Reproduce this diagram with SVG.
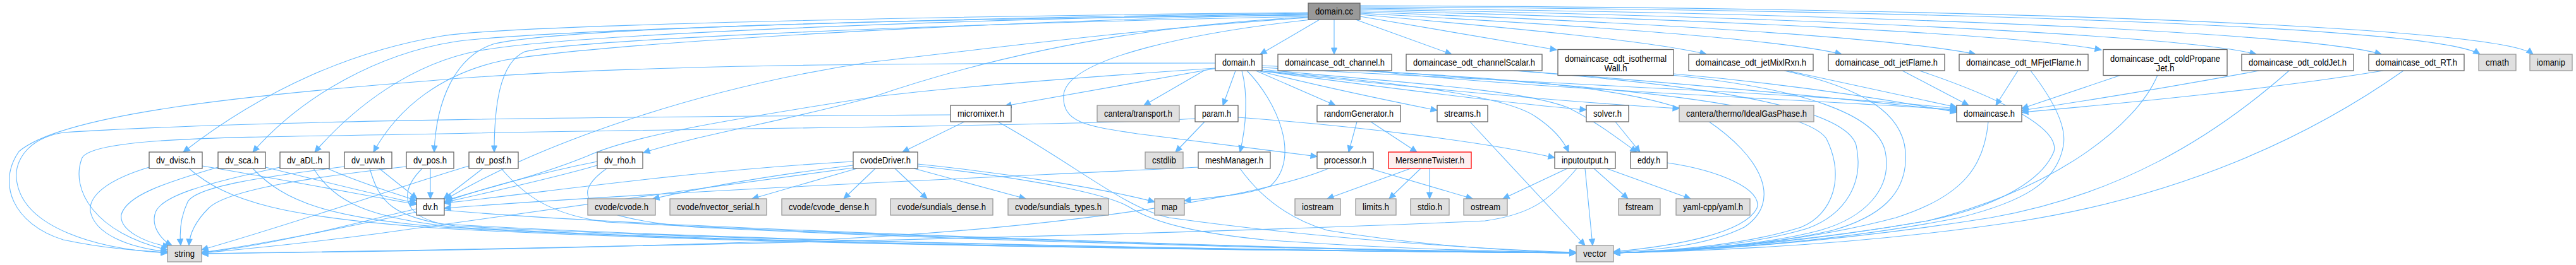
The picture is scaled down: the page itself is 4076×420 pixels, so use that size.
<svg xmlns="http://www.w3.org/2000/svg" width="4076" height="420" viewBox="0 0 4076 420">
<style>
.n rect{fill:#ffffff;stroke:#666666;stroke-width:1.3}
.x rect{fill:#e0e0e0;stroke:#999999;stroke-width:1.3}
.root rect{fill:#999999;stroke:#666666;stroke-width:1.3}
.red rect{fill:#fff0f0;stroke:#ff0000;stroke-width:1.3}
text{font-family:"Liberation Sans",Arial,Helvetica,sans-serif;font-size:14px;text-anchor:middle;fill:#000000}
#edges path{fill:none;stroke:#63b8ff;stroke-width:1.1;marker-end:url(#a)}
</style>
<defs>
<marker id="a" markerUnits="userSpaceOnUse" markerWidth="12" markerHeight="10" refX="10" refY="4.5" orient="auto" overflow="visible">
<path d="M0,0 L10,4.5 L0,9 z" fill="#63b8ff" stroke="#63b8ff" stroke-width="1"/>
</marker>
</defs>
<rect width="4076" height="420" fill="#ffffff"/>
<g id="edges">
<path d="M2088,31 L1994,86"/>
<path d="M2111,31 L2111,86"/>
<path d="M2145,31 L2297,86"/>
<path d="M2152,26 L2463,79"/>
<path d="M2152,23 C2400,45 2620,66 2700,86"/>
<path d="M2152,21 C2500,40 2820,62 2914,86"/>
<path d="M2152,19 C2600,35 3000,60 3126,86"/>
<path d="M2152,17 C2700,30 3200,55 3325,79"/>
<path d="M2152,15 C2800,25 3450,55 3570,86"/>
<path d="M2152,13 C2900,20 3650,50 3768,86"/>
<path d="M2152,11 C3000,15 3850,40 3924,86"/>
<path d="M2152,9 C3100,12 3950,40 4008,86"/>
<path d="M2070,20 C1500,25 800,40 700,57 C560,80 420,140 290,241"/>
<path d="M2070,21 C1500,28 850,48 720,66 C600,85 480,150 400,241"/>
<path d="M2070,22 C1500,30 900,55 760,80 C650,100 560,170 498,241"/>
<path d="M2070,23 C1500,35 950,70 800,95 C700,115 630,170 591,241"/>
<path d="M2070,24 C1400,30 880,45 780,70 C720,90 690,160 687,241"/>
<path d="M2070,26 C1400,40 900,65 830,82 C790,100 782,170 782,241"/>
<path d="M2070,27 C1700,45 1450,130 1380,154 C1250,190 1100,215 1018,242"/>
<path d="M2070,28 C1800,45 1500,85 1380,98 C1100,140 850,230 705,316"/>
<path d="M2075,31 C1900,50 1690,90 1683,150 C1680,195 1720,200 1800,212 C1900,225 2000,238 2084,248"/>
<path d="M1923,100 C1500,100 1000,100 680,128 C400,150 100,180 30,240 C-5,290 20,355 100,380 C170,395 230,398 265,400"/>
<path d="M1923,108 C1600,130 1450,145 1380,154 C1150,190 1000,215 930,247 C850,280 760,300 705,318"/>
<path d="M1926,108 L1590,168"/>
<path d="M1905,112 L1810,167"/>
<path d="M1955,112 L1935,167"/>
<path d="M1965,112 C1975,150 1972,200 1962,241"/>
<path d="M1973,112 C2020,160 2060,250 2010,295 C1970,310 1920,312 1874,318"/>
<path d="M1987,112 L2113,167"/>
<path d="M1990,112 C2100,140 2200,160 2274,175"/>
<path d="M1992,112 C2200,140 2400,165 2510,174"/>
<path d="M1994,112 C2200,135 2450,160 2657,172"/>
<path d="M1995,112 C2200,130 2380,150 2430,185 C2460,205 2475,225 2482,241"/>
<path d="M1996,110 C2200,130 2400,140 2480,170 C2530,195 2560,220 2590,241"/>
<path d="M1997,107 C2400,130 2900,150 3096,172"/>
<path d="M1997,104 C2300,120 2600,130 2700,190 C2790,250 2820,320 2760,360 C2700,390 2620,396 2553,400"/>
<path d="M1906,193 L1860,241"/>
<path d="M1891,188 C1700,200 1000,205 700,212 C400,218 150,215 130,250 C110,300 150,370 265,396"/>
<path d="M1959,186 C2150,200 2350,225 2460,250"/>
<path d="M1526,193 L1428,241"/>
<path d="M1579,193 C1700,260 1780,330 1850,345 C2100,380 2350,395 2494,400"/>
<path d="M1504,182 C1000,185 400,190 100,210 C40,220 20,260 27,290 C40,360 150,395 265,401"/>
<path d="M1896,265 C1600,280 1100,300 703,330"/>
<path d="M1962,267 C2000,320 2050,350 2100,365 C2250,390 2400,398 2494,401"/>
<path d="M1350,262 C1200,280 1100,300 1033,315"/>
<path d="M1356,267 L1190,315"/>
<path d="M1385,267 L1335,315"/>
<path d="M1416,267 L1467,315"/>
<path d="M1446,267 L1623,315"/>
<path d="M1452,260 C1600,275 1750,300 1827,320"/>
<path d="M1452,263 C1650,285 1760,310 1790,330 C1830,355 1900,370 2000,380 C2200,395 2400,399 2494,400"/>
<path d="M1350,256 C1100,270 900,300 703,322"/>
<path d="M1350,266 C1100,300 800,340 600,370 C450,390 350,398 319,401"/>
<path d="M945,256 C850,275 760,300 703,320"/>
<path d="M945,262 C850,290 700,320 600,345 C480,375 380,395 319,400"/>
<path d="M960,267 C900,310 920,345 1100,360 C1600,385 2200,398 2494,401"/>
<path d="M764,267 L702,315"/>
<path d="M742,263 C650,290 480,350 319,396"/>
<path d="M793,267 C830,310 870,340 960,352 C1500,380 2200,398 2494,401"/>
<path d="M681,267 L681,315"/>
<path d="M643,264 C500,280 360,300 330,330 C310,350 300,370 299,389"/>
<path d="M668,267 C635,300 630,340 700,355 C1200,385 2100,398 2494,401"/>
<path d="M600,267 L660,315"/>
<path d="M545,264 C420,280 310,295 297,320 C285,345 284,370 286,389"/>
<path d="M585,267 C600,320 620,345 720,358 C1200,385 2100,398 2494,401"/>
<path d="M518,267 C570,290 620,305 659,318"/>
<path d="M443,265 C330,290 250,310 245,340 C240,360 255,380 272,389"/>
<path d="M496,267 C530,320 580,345 720,360 C1200,388 2100,398 2494,401"/>
<path d="M420,265 C520,290 600,310 659,322"/>
<path d="M345,265 C260,290 200,310 192,340 C188,365 230,385 268,391"/>
<path d="M400,267 C450,320 520,345 700,360 C1200,390 2100,398 2494,401"/>
<path d="M320,263 C450,285 580,310 659,324"/>
<path d="M236,265 C170,285 140,310 143,335 C150,370 200,392 265,399"/>
<path d="M299,267 C360,320 450,345 700,362 C1200,390 2100,398 2494,401"/>
<path d="M659,336 C550,360 400,390 319,400"/>
<path d="M703,333 C1000,360 2000,395 2494,401"/>
<path d="M2167,267 L2330,315"/>
<path d="M2102,267 C2000,310 1700,360 1300,380 C900,395 500,400 319,402"/>
<path d="M2232,267 L2100,315"/>
<path d="M2248,267 L2198,315"/>
<path d="M2262,267 L2262,315"/>
<path d="M2147,193 L2134,241"/>
<path d="M2169,193 L2242,241"/>
<path d="M2326,193 L2508,389"/>
<path d="M2556,193 L2595,241"/>
<path d="M2480,267 L2378,315"/>
<path d="M2522,267 L2576,315"/>
<path d="M2542,267 L2675,315"/>
<path d="M2508,267 L2520,389"/>
<path d="M2495,267 C2450,320 2420,340 2350,350 C1800,375 800,395 319,402"/>
<path d="M2638,258 C2720,270 2790,300 2780,330 C2760,370 2650,390 2553,399"/>
<path d="M2170,112 C2400,140 2900,160 3096,174"/>
<path d="M2165,112 C2500,135 2850,160 2890,220 C2920,280 2900,340 2850,360 C2750,392 2620,398 2553,401"/>
<path d="M2400,112 C2700,135 2950,160 3096,176"/>
<path d="M2395,112 C2700,135 2920,170 2937,230 C2950,290 2920,340 2860,362 C2760,392 2620,399 2553,401"/>
<path d="M2648,117 C2850,135 3000,160 3096,178"/>
<path d="M2645,119 C2850,140 2970,180 2983,240 C2995,300 2950,345 2880,365 C2780,392 2620,399 2553,401"/>
<path d="M2828,112 L3096,170"/>
<path d="M2823,112 C2950,140 3010,180 3015,240 C3020,310 2970,345 2900,365 C2780,393 2620,399 2553,401"/>
<path d="M3010,112 L3115,167"/>
<path d="M3037,112 C3150,150 3260,200 3250,240 C3230,290 3150,330 3050,350 C2850,385 2650,398 2553,401"/>
<path d="M3193,112 L3158,167"/>
<path d="M3213,112 C3250,160 3270,200 3265,230 C3255,290 3200,320 3100,345 C2900,385 2680,398 2553,401"/>
<path d="M3356,119 L3199,172"/>
<path d="M3414,119 C3380,200 3250,300 3050,350 C2850,385 2680,398 2553,401"/>
<path d="M3575,112 C3450,135 3300,160 3199,175"/>
<path d="M3622,112 C3500,220 3350,310 3150,345 C2900,385 2680,398 2553,401"/>
<path d="M3771,112 C3600,140 3400,160 3199,178"/>
<path d="M3803,112 C3650,220 3450,310 3200,350 C2950,388 2700,398 2553,401"/>
<path d="M3146,193 C3140,260 3110,310 3000,345 C2850,385 2680,398 2553,401"/>
</g>
<g id="n_domain_cc" class="root"><rect x="2070" y="5" width="82" height="26"/><text x="2111" y="23" textLength="60" lengthAdjust="spacingAndGlyphs">domain.cc</text></g>
<g id="n_domain_h" class="n"><rect x="1923" y="86" width="74" height="26"/><text x="1960" y="104" textLength="52" lengthAdjust="spacingAndGlyphs">domain.h</text></g>
<g id="n_dc_channel" class="n"><rect x="2022" y="86" width="180" height="26"/><text x="2112" y="104" textLength="158" lengthAdjust="spacingAndGlyphs">domaincase_odt_channel.h</text></g>
<g id="n_dc_channelScalar" class="n"><rect x="2225" y="86" width="215" height="26"/><text x="2332.5" y="104" textLength="193" lengthAdjust="spacingAndGlyphs">domaincase_odt_channelScalar.h</text></g>
<g id="n_dc_isothermalWall" class="n"><rect x="2465" y="78.5" width="183" height="41"/><text x="2556.5" y="98" textLength="161" lengthAdjust="spacingAndGlyphs">domaincase_odt_isothermal</text><text x="2556.5" y="113" textLength="36" lengthAdjust="spacingAndGlyphs">Wall.h</text></g>
<g id="n_dc_jetMixlRxn" class="n"><rect x="2672" y="86" width="197" height="26"/><text x="2770.5" y="104" textLength="175" lengthAdjust="spacingAndGlyphs">domaincase_odt_jetMixlRxn.h</text></g>
<g id="n_dc_jetFlame" class="n"><rect x="2893" y="86" width="184" height="26"/><text x="2985" y="104" textLength="162" lengthAdjust="spacingAndGlyphs">domaincase_odt_jetFlame.h</text></g>
<g id="n_dc_MFjetFlame" class="n"><rect x="3100" y="86" width="204" height="26"/><text x="3202" y="104" textLength="182" lengthAdjust="spacingAndGlyphs">domaincase_odt_MFjetFlame.h</text></g>
<g id="n_dc_coldPropaneJet" class="n"><rect x="3328" y="78.5" width="196" height="41"/><text x="3426" y="98" textLength="174" lengthAdjust="spacingAndGlyphs">domaincase_odt_coldPropane</text><text x="3426" y="113" textLength="29" lengthAdjust="spacingAndGlyphs">Jet.h</text></g>
<g id="n_dc_coldJet" class="n"><rect x="3547" y="86" width="177" height="26"/><text x="3635.5" y="104" textLength="155" lengthAdjust="spacingAndGlyphs">domaincase_odt_coldJet.h</text></g>
<g id="n_dc_RT" class="n"><rect x="3748" y="86" width="151" height="26"/><text x="3823.5" y="104" textLength="129" lengthAdjust="spacingAndGlyphs">domaincase_odt_RT.h</text></g>
<g id="n_cmath" class="x"><rect x="3922" y="86" width="59" height="26"/><text x="3951.5" y="104" textLength="37" lengthAdjust="spacingAndGlyphs">cmath</text></g>
<g id="n_iomanip" class="x"><rect x="4003" y="86" width="67" height="26"/><text x="4036.5" y="104" textLength="45" lengthAdjust="spacingAndGlyphs">iomanip</text></g>
<g id="n_micromixer" class="n"><rect x="1504" y="167" width="96" height="26"/><text x="1552" y="185" textLength="74" lengthAdjust="spacingAndGlyphs">micromixer.h</text></g>
<g id="n_transport" class="x"><rect x="1736" y="167" width="130" height="26"/><text x="1801" y="185" textLength="108" lengthAdjust="spacingAndGlyphs">cantera/transport.h</text></g>
<g id="n_param" class="n"><rect x="1891" y="167" width="68" height="26"/><text x="1925" y="185" textLength="46" lengthAdjust="spacingAndGlyphs">param.h</text></g>
<g id="n_randomGenerator" class="n"><rect x="2084" y="167" width="132" height="26"/><text x="2150" y="185" textLength="110" lengthAdjust="spacingAndGlyphs">randomGenerator.h</text></g>
<g id="n_streams" class="n"><rect x="2274" y="167" width="80" height="26"/><text x="2314" y="185" textLength="58" lengthAdjust="spacingAndGlyphs">streams.h</text></g>
<g id="n_solver" class="n"><rect x="2510" y="167" width="67" height="26"/><text x="2543.5" y="185" textLength="45" lengthAdjust="spacingAndGlyphs">solver.h</text></g>
<g id="n_idealgas" class="x"><rect x="2657" y="167" width="213" height="26"/><text x="2763.5" y="185" textLength="191" lengthAdjust="spacingAndGlyphs">cantera/thermo/IdealGasPhase.h</text></g>
<g id="n_domaincase" class="n"><rect x="3096" y="167" width="103" height="26"/><text x="3147.5" y="185" textLength="81" lengthAdjust="spacingAndGlyphs">domaincase.h</text></g>
<g id="n_dv_dvisc" class="n"><rect x="236" y="241" width="84" height="26"/><text x="278" y="259" textLength="62" lengthAdjust="spacingAndGlyphs">dv_dvisc.h</text></g>
<g id="n_dv_sca" class="n"><rect x="345" y="241" width="75" height="26"/><text x="382.5" y="259" textLength="53" lengthAdjust="spacingAndGlyphs">dv_sca.h</text></g>
<g id="n_dv_aDL" class="n"><rect x="443" y="241" width="78" height="26"/><text x="482" y="259" textLength="56" lengthAdjust="spacingAndGlyphs">dv_aDL.h</text></g>
<g id="n_dv_uvw" class="n"><rect x="545" y="241" width="75" height="26"/><text x="582.5" y="259" textLength="53" lengthAdjust="spacingAndGlyphs">dv_uvw.h</text></g>
<g id="n_dv_pos" class="n"><rect x="643" y="241" width="75" height="26"/><text x="680.5" y="259" textLength="53" lengthAdjust="spacingAndGlyphs">dv_pos.h</text></g>
<g id="n_dv_posf" class="n"><rect x="742" y="241" width="78" height="26"/><text x="781" y="259" textLength="56" lengthAdjust="spacingAndGlyphs">dv_posf.h</text></g>
<g id="n_dv_rho" class="n"><rect x="945" y="241" width="72" height="26"/><text x="981" y="259" textLength="50" lengthAdjust="spacingAndGlyphs">dv_rho.h</text></g>
<g id="n_cvodeDriver" class="n"><rect x="1350" y="241" width="102" height="26"/><text x="1401" y="259" textLength="80" lengthAdjust="spacingAndGlyphs">cvodeDriver.h</text></g>
<g id="n_cstdlib" class="x"><rect x="1812" y="241" width="60" height="26"/><text x="1842" y="259" textLength="38" lengthAdjust="spacingAndGlyphs">cstdlib</text></g>
<g id="n_meshManager" class="n"><rect x="1896" y="241" width="114" height="26"/><text x="1953" y="259" textLength="92" lengthAdjust="spacingAndGlyphs">meshManager.h</text></g>
<g id="n_processor" class="n"><rect x="2084" y="241" width="89" height="26"/><text x="2128.5" y="259" textLength="67" lengthAdjust="spacingAndGlyphs">processor.h</text></g>
<g id="n_mersenne" class="red"><rect x="2197" y="241" width="131" height="26"/><text x="2262.5" y="259" textLength="109" lengthAdjust="spacingAndGlyphs">MersenneTwister.h</text></g>
<g id="n_inputoutput" class="n"><rect x="2460" y="241" width="96" height="26"/><text x="2508" y="259" textLength="74" lengthAdjust="spacingAndGlyphs">inputoutput.h</text></g>
<g id="n_eddy" class="n"><rect x="2580" y="241" width="58" height="26"/><text x="2609" y="259" textLength="36" lengthAdjust="spacingAndGlyphs">eddy.h</text></g>
<g id="n_dv" class="n"><rect x="659" y="315" width="44" height="26"/><text x="681" y="333" textLength="24" lengthAdjust="spacingAndGlyphs">dv.h</text></g>
<g id="n_cvode" class="x"><rect x="930" y="315" width="107" height="26"/><text x="983.5" y="333" textLength="85" lengthAdjust="spacingAndGlyphs">cvode/cvode.h</text></g>
<g id="n_nvector" class="x"><rect x="1060" y="315" width="153" height="26"/><text x="1136.5" y="333" textLength="131" lengthAdjust="spacingAndGlyphs">cvode/nvector_serial.h</text></g>
<g id="n_cvode_dense" class="x"><rect x="1237" y="315" width="149" height="26"/><text x="1311.5" y="333" textLength="127" lengthAdjust="spacingAndGlyphs">cvode/cvode_dense.h</text></g>
<g id="n_sundials_dense" class="x"><rect x="1409" y="315" width="162" height="26"/><text x="1490" y="333" textLength="140" lengthAdjust="spacingAndGlyphs">cvode/sundials_dense.h</text></g>
<g id="n_sundials_types" class="x"><rect x="1595" y="315" width="159" height="26"/><text x="1674.5" y="333" textLength="137" lengthAdjust="spacingAndGlyphs">cvode/sundials_types.h</text></g>
<g id="n_map" class="x"><rect x="1827" y="315" width="47" height="26"/><text x="1850.5" y="333" textLength="25" lengthAdjust="spacingAndGlyphs">map</text></g>
<g id="n_iostream" class="x"><rect x="2049" y="315" width="72" height="26"/><text x="2085" y="333" textLength="50" lengthAdjust="spacingAndGlyphs">iostream</text></g>
<g id="n_limits" class="x"><rect x="2145" y="315" width="64" height="26"/><text x="2177" y="333" textLength="42" lengthAdjust="spacingAndGlyphs">limits.h</text></g>
<g id="n_stdio" class="x"><rect x="2232" y="315" width="61" height="26"/><text x="2262.5" y="333" textLength="39" lengthAdjust="spacingAndGlyphs">stdio.h</text></g>
<g id="n_ostream" class="x"><rect x="2316" y="315" width="69" height="26"/><text x="2350.5" y="333" textLength="47" lengthAdjust="spacingAndGlyphs">ostream</text></g>
<g id="n_fstream" class="x"><rect x="2561" y="315" width="66" height="26"/><text x="2594" y="333" textLength="44" lengthAdjust="spacingAndGlyphs">fstream</text></g>
<g id="n_yaml" class="x"><rect x="2652" y="315" width="117" height="26"/><text x="2710.5" y="333" textLength="95" lengthAdjust="spacingAndGlyphs">yaml-cpp/yaml.h</text></g>
<g id="n_string" class="x"><rect x="265" y="389" width="54" height="26"/><text x="292" y="407" textLength="32" lengthAdjust="spacingAndGlyphs">string</text></g>
<g id="n_vector" class="x"><rect x="2494" y="389" width="59" height="26"/><text x="2523.5" y="407" textLength="37" lengthAdjust="spacingAndGlyphs">vector</text></g>
</svg>
